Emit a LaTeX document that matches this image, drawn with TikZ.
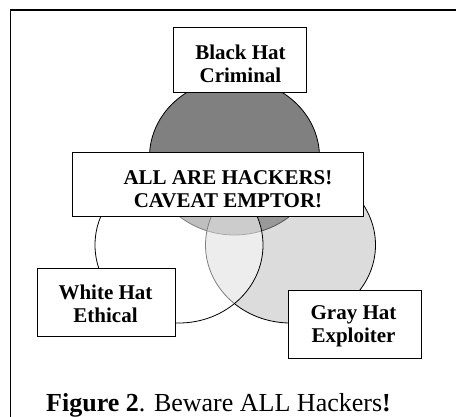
\documentclass[tikz,border=0pt]{standalone}
\usepackage{fontspec}
\setmainfont{Liberation Serif}
\definecolor{blk}{gray}{0.502}
\definecolor{gry}{gray}{0.714}
\begin{document}
\begin{tikzpicture}[x=1pt,y=-1pt,
  venn/.style={draw=black, line width=0.8pt},
  box/.style={draw=black, line width=1.3pt, fill=white, inner sep=0pt},
  lbl/.style={font=\bfseries\fontsize{21}{23}\selectfont, align=center, inner sep=0pt},
]
\useasboundingbox (0,0) rectangle (456,417);
\fill[white] (0,0) rectangle (456,417);
\draw[line width=1.8pt] (456,10) -- (10.5,10) -- (10.5,417);
% Venn ellipses
\path[venn, fill=blk] (234.5,157) ellipse [x radius=85pt, y radius=78pt];
\path[venn, fill=gry, fill opacity=0.465] (290.5,245) ellipse [x radius=85pt, y radius=78pt];
\path[venn, fill=white, fill opacity=0.5] (179,245) ellipse [x radius=84pt, y radius=78pt];
% boxes
\node[box, minimum width=133pt, minimum height=65pt] (bhbox) at (240,60) {};
\node[lbl] (bh) at (240.5,63.4) {Black Hat\\Criminal};
\node[box, minimum width=291pt, minimum height=64pt] (allbox) at (218,184.5) {};
\node[lbl] (all) at (228,189.3) {ALL ARE HACKERS!\\CAVEAT EMPTOR!};
\node[box, minimum width=138pt, minimum height=68pt] (whbox) at (106.5,302.5) {};
\node[lbl] (wh) at (105.5,303.4) {White Hat\\Ethical};
\node[box, minimum width=133pt, minimum height=68pt] (ghbox) at (355,324.5) {};
\node[lbl] (gh) at (353.5,326.5) {Gray Hat\\Exploiter};
% caption
\node[anchor=base west, font=\fontsize{26}{30}\selectfont, inner sep=0pt] (cap) at (46,411) {\textbf{Figure 2}. Beware ALL Hackers\textbf{!}};
\end{tikzpicture}
\end{document}
